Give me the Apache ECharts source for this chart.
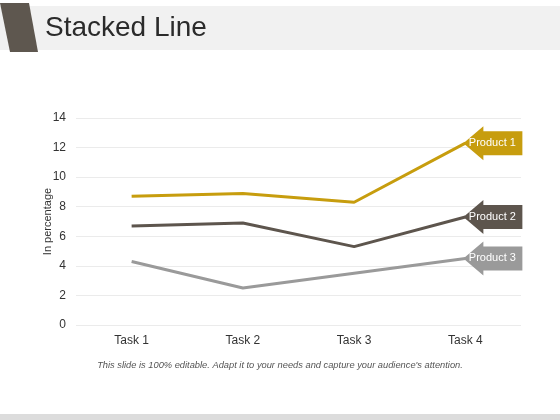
<!DOCTYPE html>
<html>
<head>
<meta charset="utf-8">
<style>
html,body{margin:0;padding:0;background:#fff;}
#c{width:560px;height:420px;}
</style>
<script src="https://cdn.jsdelivr.net/npm/echarts@6/dist/echarts.min.js"></script>
</head>
<body>
<div id="c"></div>
<script>
var categories = ['Task 1', 'Task 2', 'Task 3', 'Task 4'];
var product1 = [8.7, 8.9, 8.3, 12.3];
var product2 = [6.7, 6.9, 5.3, 7.3];
var product3 = [4.3, 2.5, 3.5, 4.5];
var seriesNames = ['Product 1', 'Product 2', 'Product 3'];
var colors = ['#c79d0e', '#5d554d', '#9a9a9a'];
var yTicks = [0, 2, 4, 6, 8, 10, 12, 14];

var allSeries = [product1, product2, product3];
var lastIdx = categories.length - 1;

var chart = echarts.init(document.getElementById('c'), null, {renderer: 'canvas'});
var lineSeries = allSeries.map(function (d, i) {
  return {
    name: seriesNames[i],
    type: 'line',
    data: d,
    symbol: 'none',
    lineStyle: {width: 3, color: colors[i]},
    itemStyle: {color: colors[i]},
    z: 2
  };
});
var arrowData = allSeries.map(function (d, i) {
  return [lastIdx, d[lastIdx], seriesNames[i], i];
});
var arrowSeries = {
  type: 'custom',
  coordinateSystem: 'cartesian2d',
  clip: false,
  z: 5,
  data: arrowData,
  renderItem: function (params, api) {
    var p = api.coord([api.value(0), api.value(1)]);
    var x = p[0], y = p[1];
    var idx = api.value(3);
    return {
      type: 'group',
      children: [{
        type: 'polygon',
        shape: {points: [
          [x - 2, y], [x + 18, y - 17], [x + 18, y - 12], [x + 57, y - 12],
          [x + 57, y + 12], [x + 18, y + 12], [x + 18, y + 17]
        ]},
        style: {fill: colors[idx]}
      }, {
        type: 'text',
        style: {
          text: seriesNames[idx], x: x + 27, y: y, align: 'center', verticalAlign: 'middle',
          fill: '#ffffff', fontSize: 11, fontFamily: 'Liberation Sans, Arial, sans-serif'
        }
      }]
    };
  }
};

chart.setOption({
  animation: false,
  backgroundColor: '#ffffff',
  textStyle: {fontFamily: 'Liberation Sans, Arial, sans-serif'},
  graphic: [
    {type: 'rect', shape: {x: 0, y: 6, width: 560, height: 44}, style: {fill: '#f1f1f1'}, z: 0},
    {type: 'polygon', shape: {points: [[0, 3], [29, 3], [38, 52], [10, 52]]}, style: {fill: '#5e574f'}, z: 1},
    {type: 'text', left: 45, top: 14, style: {text: 'Stacked Line', fontSize: 28, fill: '#2b2b2b', fontFamily: 'Liberation Sans, Arial, sans-serif'}, z: 2},
    {type: 'text', left: 'center', top: 361, style: {text: "This slide is 100% editable. Adapt it to your needs and capture your audience's attention.", fontSize: 9.3, fontStyle: 'italic', fill: '#555555', fontFamily: 'Liberation Sans, Arial, sans-serif'}},
    {type: 'rect', shape: {x: 0, y: 414, width: 560, height: 6}, style: {fill: '#dcdcdc'}}
  ],
  grid: {left: 76, right: 39, top: 118, bottom: 95, containLabel: false},
  xAxis: {
    type: 'category',
    data: categories,
    boundaryGap: true,
    axisLine: {show: false},
    axisTick: {show: false},
    axisLabel: {color: '#333333', fontSize: 12, margin: 10}
  },
  yAxis: {
    type: 'value',
    min: yTicks[0],
    max: yTicks[yTicks.length - 1],
    interval: 2,
    name: 'In percentage',
    nameLocation: 'middle',
    nameGap: 23,
    nameMoveOverlap: false,
    nameTextStyle: {color: '#333333', fontSize: 11},
    axisLine: {show: false},
    axisTick: {show: false},
    axisLabel: {color: '#333333', fontSize: 12, margin: 10},
    splitLine: {lineStyle: {color: '#ebebeb', width: 1}}
  },
  series: lineSeries.concat([arrowSeries])
});
</script>
</body>
</html>
